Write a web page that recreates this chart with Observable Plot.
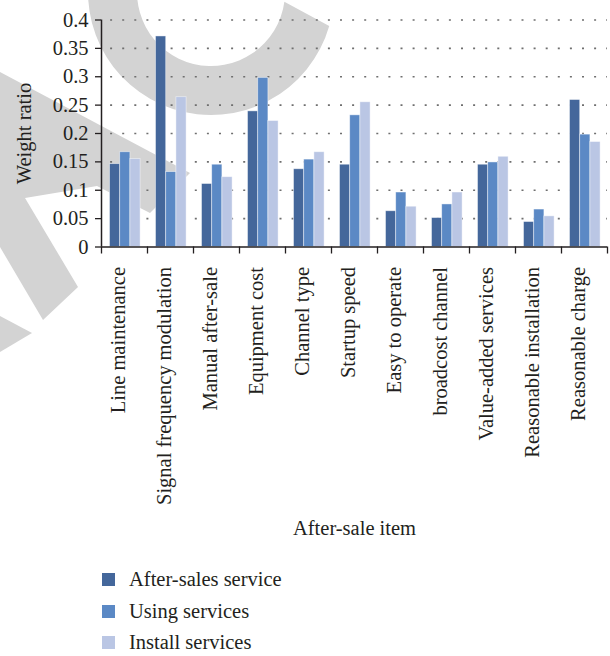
<!DOCTYPE html>
<html>
<head>
<meta charset="utf-8">
<script src="https://cdn.jsdelivr.net/npm/d3@7"></script>
<script src="https://cdn.jsdelivr.net/npm/@observablehq/plot@0.6"></script>
<style>
  html, body { margin: 0; padding: 0; background: #fff; }
  #chart { width: 610px; font-family: "Liberation Serif", "Times New Roman", serif; color: #231f20; }
  .legend { padding: 4px 0 0 102px; }
  .legend .row { height: 31.5px; display: flex; align-items: center; font-size: 20.5px; }
  .legend .sw { width: 13px; height: 13px; margin-right: 14px; flex: none; }
</style>
</head>
<body>
<div id="chart"></div>
<script>
// After-sale items (x categories)
const categories = [
  "Line maintenance",
  "Signal frequency modulation",
  "Manual after-sale",
  "Equipment cost",
  "Channel type",
  "Startup speed",
  "Easy to operate",
  "broadcost channel",
  "Value-added services",
  "Reasonable installation",
  "Reasonable charge"
];

// Series names and their weight ratios, one value per item
const seriesNames = ["After-sales service", "Using services", "Install services"];
const afterSales      = [0.146, 0.371, 0.111, 0.239, 0.137, 0.145, 0.063, 0.051, 0.145, 0.044, 0.259];
const usingServices   = [0.167, 0.132, 0.145, 0.298, 0.154, 0.232, 0.096, 0.075, 0.149, 0.066, 0.198];
const installServices = [0.155, 0.264, 0.123, 0.222, 0.167, 0.255, 0.071, 0.096, 0.159, 0.054, 0.185];
const seriesColors = ["#44679b", "#5b89c5", "#bac6e4"];

// Axis ticks and titles
const yTicks = [0, 0.05, 0.1, 0.15, 0.2, 0.25, 0.3, 0.35, 0.4];
const yTitle = "Weight ratio";
const xTitle = "After-sale item";

const seriesValues = [afterSales, usingServices, installServices];
const rows = categories.flatMap((category, i) =>
  seriesNames.map((series, s) => ({category, index: i, series, value: seriesValues[s][i]}))
);

// Each item occupies one unit on x; the three bars sit inside it
const slot = d3.scaleBand(seriesNames, [0.185, 0.85]);
const boundaries = d3.range(categories.length + 1);
const fontSize = 20.5;
const yMid = (yTicks[0] + yTicks[yTicks.length - 1]) / 2;

const plot = Plot.plot({
  width: 610,
  height: 560,
  marginLeft: 101,
  marginRight: 3,
  marginTop: 19.5,
  marginBottom: 313.5,
  style: {fontFamily: "Liberation Serif, Times New Roman, serif", fontSize: fontSize + "px", color: "#231f20", background: "transparent"},
  x: {domain: [0, categories.length]},
  y: {domain: [0, 0.4]},
  color: {domain: seriesNames, range: seriesColors},
  marks: [
    Plot.gridY(yTicks.slice(1), {stroke: "#6f6f6f", strokeOpacity: 1, strokeWidth: 1.6, strokeDasharray: "2,10.1", strokeDashoffset: 3}),
    Plot.rectY(rows, {
      x1: d => d.index + slot(d.series),
      x2: d => d.index + slot(d.series) + slot.bandwidth(),
      y: "value",
      fill: "series",
      stroke: "white",
      strokeOpacity: 0.55,
      strokeWidth: 0.8
    }),
    Plot.axisY({ticks: yTicks, tickSize: 6, tickPadding: 7, strokeWidth: 1.3, fontSize, label: null,
      tickFormat: d => String(+d.toFixed(2))}),
    Plot.axisX({ticks: boundaries, tickSize: 7, strokeWidth: 1.3, tickFormat: () => "", label: null}),
    Plot.ruleX([0], {y1: 0, y2: 0.4, strokeWidth: 1.5}),
    Plot.ruleY([0], {strokeWidth: 1.5}),
    Plot.text(categories, {
      x: (d, i) => i + 0.5,
      text: d => d,
      frameAnchor: "bottom",
      rotate: -90,
      textAnchor: "end",
      dy: 20,
      fontSize,
      fill: "#231f20"
    }),
    Plot.text([yTitle], {x: () => 0, y: () => yMid, text: d => d, textAnchor: "middle", rotate: -90, dx: -77, fontSize, fill: "#231f20"}),
    Plot.text([xTitle], {frameAnchor: "bottom", dy: 288, fontSize, fill: "#231f20"})
  ]
});

// Keep the rotated y title centred on the frame
d3.select(plot).selectAll("text")
  .filter(function() { return this.textContent === yTitle; })
  .attr("text-anchor", "middle")
  .style("text-anchor", "middle");

// Light grey watermark shapes behind the chart
const wm = d3.select(plot).insert("g", ":first-child").attr("fill", "#d3d3d3");
const deg = Math.PI / 180;
const ring = d3.path();
const cx = 211, cy = -8, R = 123, r = 74;
ring.moveTo(cx + R * Math.cos(16 * deg), cy + R * Math.sin(16 * deg));
ring.arc(cx, cy, R, 16 * deg, 200 * deg, false);
ring.lineTo(cx + r * Math.cos(200 * deg), cy + r * Math.sin(200 * deg));
ring.arc(cx, cy, r, 200 * deg, 7.5 * deg, true);
ring.closePath();
wm.append("path").attr("d", ring.toString());
const strokes = [
  [[0, 72], [190, 173], [150, 213], [97, 186], [25, 198], [78, 287], [43, 320], [0, 247]],
  [[0, 316], [32, 333], [0, 352]]
];
for (const s of strokes) wm.append("path").attr("d", d3.line()(s) + "Z");

const chart = document.getElementById("chart");
chart.appendChild(plot);

// Legend below the plot
const legend = d3.select(chart).append("div").attr("class", "legend");
seriesNames.forEach((name, i) => {
  const row = legend.append("div").attr("class", "row");
  row.append("span").attr("class", "sw").style("background", seriesColors[i]);
  row.append("span").text(name);
});
</script>
</body>
</html>
